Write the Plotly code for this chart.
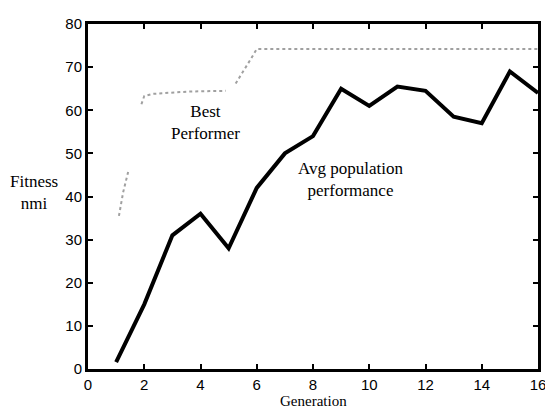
import plotly.graph_objects as go

generation = [1, 2, 3, 4, 5, 6, 7, 8, 9, 10, 11, 12, 13, 14, 15, 16]
avg_perf = [1.6, 15, 31, 36, 28, 42, 50, 54, 65, 61, 65.5, 64.5, 58.5, 57, 69, 64]

best_x = [1.1, 1.25, 1.45, None, 1.9, 2.0, 2.3, 2.7, 3.0, 3.5, 4.0, 4.5, 4.9, None,
          5.25, 5.45, 5.8, 6.0, 7, 8, 9, 10, 11, 12, 13, 14, 15, 16]
best_y = [35.5, 41, 46.3, None, 61.4, 63.3, 63.8, 64.0, 64.2, 64.3, 64.4, 64.4, 64.5, None,
          66.2, 68.2, 72, 74.2, 74.2, 74.2, 74.2, 74.2, 74.2, 74.2, 74.2, 74.2, 74.2, 74.2]

x_ticks = [0, 2, 4, 6, 8, 10, 12, 14, 16]
y_ticks = [0, 10, 20, 30, 40, 50, 60, 70, 80]

# page has an 8px body margin; compensate so the plot lands where the reference has it
OFF = 8
W, H = 553 - OFF, 409 - OFF
L, T = 88 - OFF, 15 - OFF
R = W - (540 - OFF)
B = H - (369 - OFF)

fig = go.Figure()
fig.add_trace(go.Scatter(x=best_x, y=best_y, mode="lines", connectgaps=False,
                         line=dict(color="#a0a0a0", width=2, dash="dot"),
                         name="Best Performer"))
fig.add_trace(go.Scatter(x=generation, y=avg_perf, mode="lines",
                         line=dict(color="black", width=4),
                         name="Avg population performance"))

serif = "Liberation Serif, Times New Roman, serif"
sans = "Liberation Sans, Arial, sans-serif"

plot_w = W - L - R
plot_h = H - T - B

def px_x(px):
    return (px - OFF - L) / plot_w

def px_y(py):
    return ((H - B) - (py - OFF)) / plot_h

fig.update_layout(
    width=W, height=H,
    margin=dict(l=L, r=R, t=T, b=B),
    paper_bgcolor="white", plot_bgcolor="white",
    showlegend=False,
    font=dict(family=sans, size=15, color="black"),
    xaxis=dict(range=[0, 16], tickvals=x_ticks, ticktext=[str(v) for v in x_ticks],
               ticks="inside", ticklen=5, tickwidth=2, tickcolor="black",
               showline=True, linecolor="black", linewidth=3, mirror="ticks",
               showgrid=False, zeroline=False,
               tickfont=dict(family=sans, size=15, color="black")),
    yaxis=dict(range=[0, 80], tickvals=y_ticks, ticktext=[str(v) for v in y_ticks],
               ticks="inside", ticklen=5, tickwidth=2, tickcolor="black",
               showline=True, linecolor="black", linewidth=3, mirror="ticks",
               showgrid=False, zeroline=False,
               tickfont=dict(family=sans, size=15, color="black")),
    annotations=[
        dict(text="Best<br>Performer", x=4.18, y=57.1, xref="x", yref="y",
             xanchor="center", yanchor="middle",
             showarrow=False, font=dict(family=serif, size=17, color="black")),
        dict(text="Avg population<br>performance", x=9.35, y=43.9, xref="x", yref="y",
             xanchor="center", yanchor="middle",
             showarrow=False, font=dict(family=serif, size=17, color="black")),
        dict(text="Fitness<br>nmi", x=px_x(34), y=px_y(187.5), xref="paper", yref="paper",
             xanchor="center", yanchor="middle",
             showarrow=False, font=dict(family=serif, size=17, color="black")),
        dict(text="Generation", x=px_x(314), y=px_y(402), xref="paper", yref="paper",
             xanchor="center", yanchor="middle",
             showarrow=False, font=dict(family=serif, size=15, color="black")),
    ],
)

fig.write_html("out.html")
